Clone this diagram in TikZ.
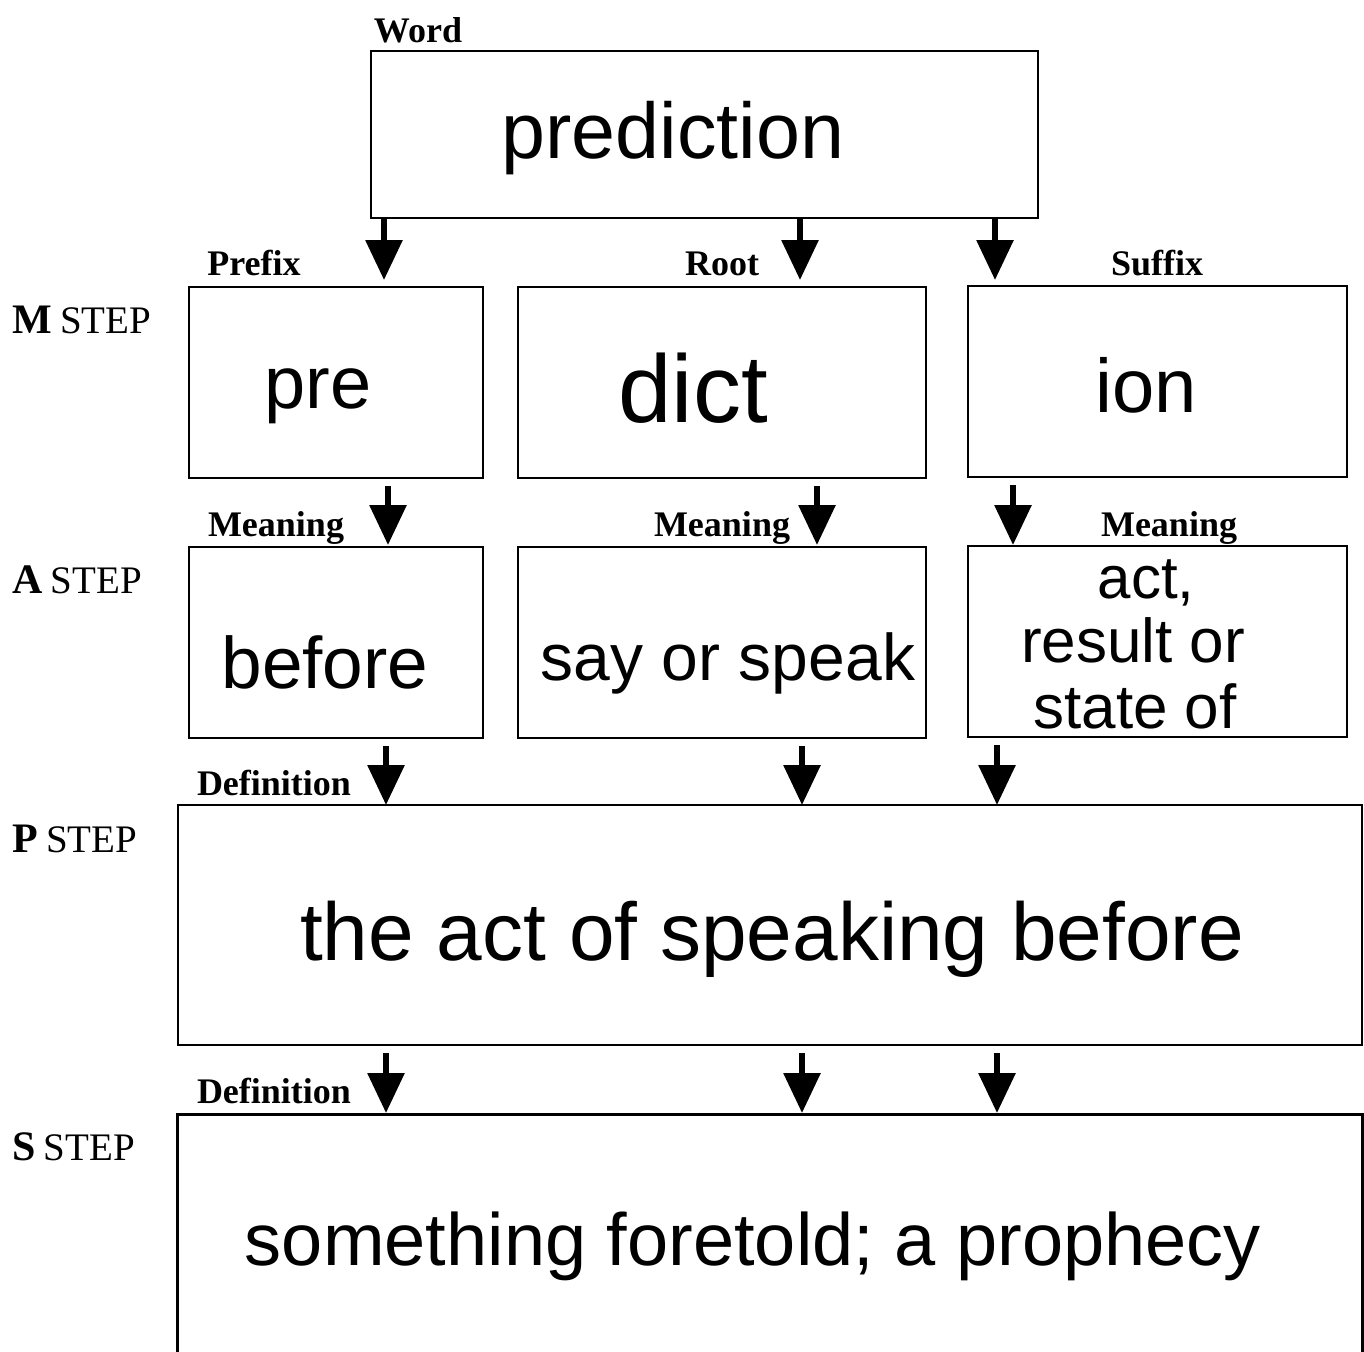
\documentclass[tikz,border=0pt]{standalone}
\usepackage{fontspec}
\setmainfont{Liberation Serif}
\newfontfamily\hand{Liberation Sans}
\usetikzlibrary{arrows.meta,fit}
\begin{document}
\begin{tikzpicture}[x=0.5pt,y=-0.5pt,
  boxst/.style={draw, line width=1.2pt, inner sep=0pt},
  arr/.style={line width=3pt, -{Triangle[width=18pt,length=20pt]}},
  lab/.style={font=\fontsize{18}{20}\selectfont\bfseries, anchor=base, inner sep=0pt},
  steplab/.style={font=\fontsize{19.5}{22}\selectfont, anchor=base west, inner sep=0pt},
  hw/.style={anchor=base, inner sep=0pt},
  tight/.style={text height=0.74em, text depth=0.12em}]
\useasboundingbox (0,0) rectangle (1364,1351);
\fill[white] (0,0) rectangle (1364,1351);

% boxes
\coordinate (w1) at (371,51);   \coordinate (w2) at (1038,218);
\node[boxst, fit=(w1)(w2)] (word) {};
\coordinate (p1) at (189,287);  \coordinate (p2) at (483,478);
\node[boxst, fit=(p1)(p2)] (mpre) {};
\coordinate (r1) at (518,287);  \coordinate (r2) at (926,478);
\node[boxst, fit=(r1)(r2)] (mroot) {};
\coordinate (s1) at (968,286);  \coordinate (s2) at (1347,477);
\node[boxst, fit=(s1)(s2)] (msuf) {};
\coordinate (ap1) at (189,547); \coordinate (ap2) at (483,738);
\node[boxst, fit=(ap1)(ap2)] (apre) {};
\coordinate (ar1) at (518,547); \coordinate (ar2) at (926,738);
\node[boxst, fit=(ar1)(ar2)] (aroot) {};
\coordinate (as1) at (968,546); \coordinate (as2) at (1347,737);
\node[boxst, fit=(as1)(as2)] (asuf) {};
\coordinate (pp1) at (178,805); \coordinate (pp2) at (1362,1045);
\node[boxst, fit=(pp1)(pp2)] (pbox) {};
\coordinate (ss1) at (178,1115); \coordinate (ss2) at (1362,1352);
\node[inner sep=0pt, fit=(ss1)(ss2)] (sbox) {};
\draw[line width=1.2pt] (sbox.south west) -- (sbox.north west) -- (sbox.north east) -- (sbox.south east);

% labels
\node[lab] (lword) at (418,42) {Word};
\node[lab] (lpre) at (254,275) {Prefix};
\node[lab] (lroot) at (722,275) {Root};
\node[lab] (lsuf) at (1157,275) {Suffix};
\node[lab] (lm1) at (276,536) {Meaning};
\node[lab] (lm2) at (722,536) {Meaning};
\node[lab] (lm3) at (1169,536) {Meaning};
\node[lab] (ld1) at (274,795) {Definition};
\node[lab] (ld2) at (274,1103) {Definition};
\node[steplab] (sm) at (12,333) {{\fontsize{21}{22}\selectfont\bfseries M}\hspace{4pt}STEP};
\node[steplab] (sa) at (12,593) {{\fontsize{21}{22}\selectfont\bfseries A}\hspace{4pt}STEP};
\node[steplab] (sp) at (12,852) {{\fontsize{21}{22}\selectfont\bfseries P}\hspace{4pt}STEP};
\node[steplab] (ss) at (12,1160) {{\fontsize{21}{22}\selectfont\bfseries S}\hspace{4pt}STEP};

% handwritten texts
\node[hw, font=\hand\fontsize{39.5}{40}\selectfont] (tword) at (673,158) {prediction};
\node[hw, font=\hand\fontsize{37}{40}\selectfont] (tpre) at (318,408) {pre};
\node[hw, font=\hand\fontsize{48}{50}\selectfont] (troot) at (693,422) {dict};
\node[hw, font=\hand\fontsize{38}{40}\selectfont] (tsuf) at (1146,412) {ion};
\node[hw, font=\hand\fontsize{36.5}{40}\selectfont] (tapre) at (325,688) {before};
\node[hw, font=\hand\fontsize{33}{40}\selectfont] (taroot) at (728,680) {say or speak};
\node[hw, tight, font=\hand\fontsize{30}{34}\selectfont] (tasuf1) at (1146,598) {act,};
\node[hw, tight, font=\hand\fontsize{31}{34}\selectfont] (tasuf2) at (1133,662) {result or};
\node[hw, tight, font=\hand\fontsize{31}{34}\selectfont] (tasuf3) at (1135,728) {state of};
\node[hw, font=\hand\fontsize{41}{44}\selectfont] (tp) at (772,960) {the act of speaking before};
\node[hw, font=\hand\fontsize{37}{40}\selectfont] (ts) at (753,1265) {something foretold; a prophecy};

% arrow tips
\coordinate (a11) at (384,280); \coordinate (a12) at (800,280); \coordinate (a13) at (995,280);
\coordinate (a21) at (388,545); \coordinate (a22) at (817,545); \coordinate (a23) at (1013,545);
\coordinate (a31) at (386,805); \coordinate (a32) at (802,805); \coordinate (a33) at (997,805);
\coordinate (a41) at (386,1113); \coordinate (a42) at (802,1113); \coordinate (a43) at (997,1113);

\draw[arr] (word.south -| a11) -- (a11);
\draw[arr] (word.south -| a12) -- (a12);
\draw[arr] (word.south -| a13) -- (a13);
\draw[arr] ([yshift=-3.5pt]mpre.south -| a21) -- (a21);
\draw[arr] ([yshift=-3.5pt]mroot.south -| a22) -- (a22);
\draw[arr] ([yshift=-3.5pt]msuf.south -| a23) -- (a23);
\draw[arr] ([yshift=-3.5pt]apre.south -| a31) -- (a31);
\draw[arr] ([yshift=-3.5pt]aroot.south -| a32) -- (a32);
\draw[arr] ([yshift=-3.5pt]asuf.south -| a33) -- (a33);
\draw[arr] ([yshift=-3.5pt]pbox.south -| a41) -- (a41);
\draw[arr] ([yshift=-3.5pt]pbox.south -| a42) -- (a42);
\draw[arr] ([yshift=-3.5pt]pbox.south -| a43) -- (a43);
\end{tikzpicture}
\end{document}
